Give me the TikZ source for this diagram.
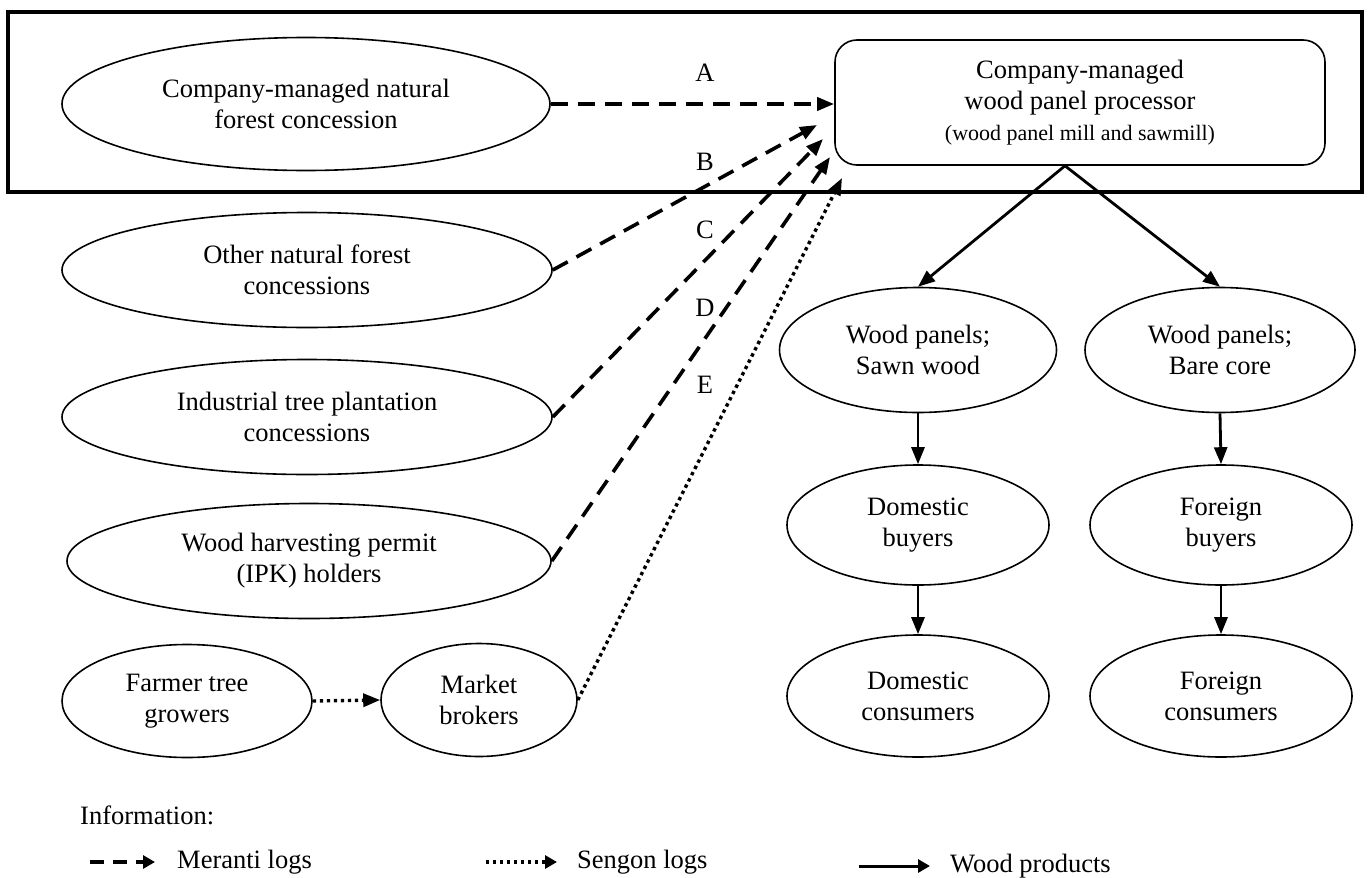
\documentclass[tikz,border=0pt]{standalone}
\usepackage{fontspec}
\setmainfont{Liberation Serif}
\usetikzlibrary{shapes.geometric,arrows.meta,calc}
\begin{document}
\begin{tikzpicture}[x=1pt,y=-1pt,
  every node/.style={font=\fontsize{26.5}{31}\selectfont, align=center, inner sep=0pt},
  oval/.style={draw, ellipse, line width=1.6pt},
  procbox/.style={draw, rectangle, rounded corners=22pt, line width=1.6pt},
  frame/.style={draw, line width=3.2pt},
  tipstyle/.style={-{Triangle[length=17pt,width=13pt]}},
  dasharrow/.style={tipstyle, line width=3.6pt, dash pattern=on 17pt off 10pt},
  dotarrow/.style={tipstyle, line width=3.4pt, dash pattern=on 3.4pt off 3.6pt},
  solidarrow/.style={tipstyle, line width=2.8pt},
  lbl/.style={font=\fontsize{26.5}{31}\selectfont},
  legtext/.style={anchor=west, font=\fontsize{26.5}{31}\selectfont},
  legtip/.style={-{Triangle[length=12pt,width=13pt]}}
]
\useasboundingbox (0,0) rectangle (1368,878);

% outer frame
\draw[frame] (8,12) rectangle (1362,192);

% left column
\node[oval, minimum width=488pt, minimum height=133pt] (e1) at (306,104) {Company-managed natural\\forest concession};
\node[oval, minimum width=490pt, minimum height=115pt] (e2) at (307,270) {Other natural forest\\concessions};
\node[oval, minimum width=490pt, minimum height=115pt] (e3) at (307,417) {Industrial tree plantation\\concessions};
\node[oval, minimum width=484pt, minimum height=115pt] (e4) at (309,561) {Wood harvesting permit\\(IPK) holders};
\node[oval, minimum width=250pt, minimum height=113pt] (farmer) at (187,701) {Farmer tree\\growers};
\node[oval, minimum width=196pt, minimum height=113pt] (market) at (479,700) {Market\\brokers};

% processor
\node[procbox, minimum width=490pt, minimum height=125pt] (proc) at (1080,102.5) {Company-managed\\wood panel processor\\{\fontsize{22}{31}\selectfont (wood panel mill and sawmill)}};
\coordinate (apex) at ($(proc.south)+(-15,0)$);

% right columns
\node[oval, minimum width=277pt, minimum height=125pt] (wp1) at (918,350) {Wood panels;\\Sawn wood};
\node[oval, minimum width=270pt, minimum height=125pt] (wp2) at (1220,350) {Wood panels;\\Bare core};
\node[oval, minimum width=262pt, minimum height=120pt] (db) at (918,525) {Domestic\\buyers};
\node[oval, minimum width=262pt, minimum height=120pt] (fb) at (1221,525) {Foreign\\buyers};
\node[oval, minimum width=262pt, minimum height=122pt] (dc) at (918,696) {Domestic\\consumers};
\node[oval, minimum width=262pt, minimum height=122pt] (fc) at (1221,696) {Foreign\\consumers};

% arrow end points near the processor
\coordinate (tB) at (817,125);
\coordinate (tC) at (823,139);
\coordinate (tD) at (830,157);
\coordinate (tE) at (842,178);

% log flows
\draw[dasharrow] (e1.east) -- (proc.west |- e1.east);
\draw[dasharrow] (e2.east) -- (tB);
\draw[dasharrow] (e3.east) -- (tC);
\draw[dasharrow] (e4.east) -- (tD);
\draw[dotarrow] (market.east) -- (tE);
\draw[dotarrow] (farmer.east) -- (market.west);

% labels
\node[lbl] (lA) at (705,73) {A};
\node[lbl] (lB) at (705,162) {B};
\node[lbl] (lC) at (705,230) {C};
\node[lbl] (lD) at (705,308) {D};
\node[lbl] (lE) at (705,385) {E};

% product flows
\draw[solidarrow] (apex) -- (wp1.north);
\draw[solidarrow] (apex) -- (wp2.north);
\draw[solidarrow] (wp1.south) -- (db.north);
\draw[solidarrow] (db.south) -- (dc.north);
\draw[solidarrow] (wp2.south) -- (fb.north);
\draw[solidarrow] (fb.south) -- (fc.north);

% legend
\node[legtext] (info) at (80,815) {Information:};
\coordinate (m1) at (90,862);
\coordinate (m2) at (155,862);
\draw[legtip, line width=3.6pt, dash pattern=on 14pt off 9pt] (m1) -- (m2);
\node[legtext] (ml) at (177,862) {Meranti logs};
\coordinate (s1) at (486,862);
\coordinate (s2) at (557,862);
\draw[legtip, line width=3.4pt, dash pattern=on 3.4pt off 3.6pt] (s1) -- (s2);
\node[legtext] (sl) at (577,862) {Sengon logs};
\coordinate (w1) at (859,866);
\coordinate (w2) at (930,866);
\draw[legtip, line width=3pt] (w1) -- (w2);
\node[legtext] (wl) at (950,866) {Wood products};
\end{tikzpicture}
\end{document}
